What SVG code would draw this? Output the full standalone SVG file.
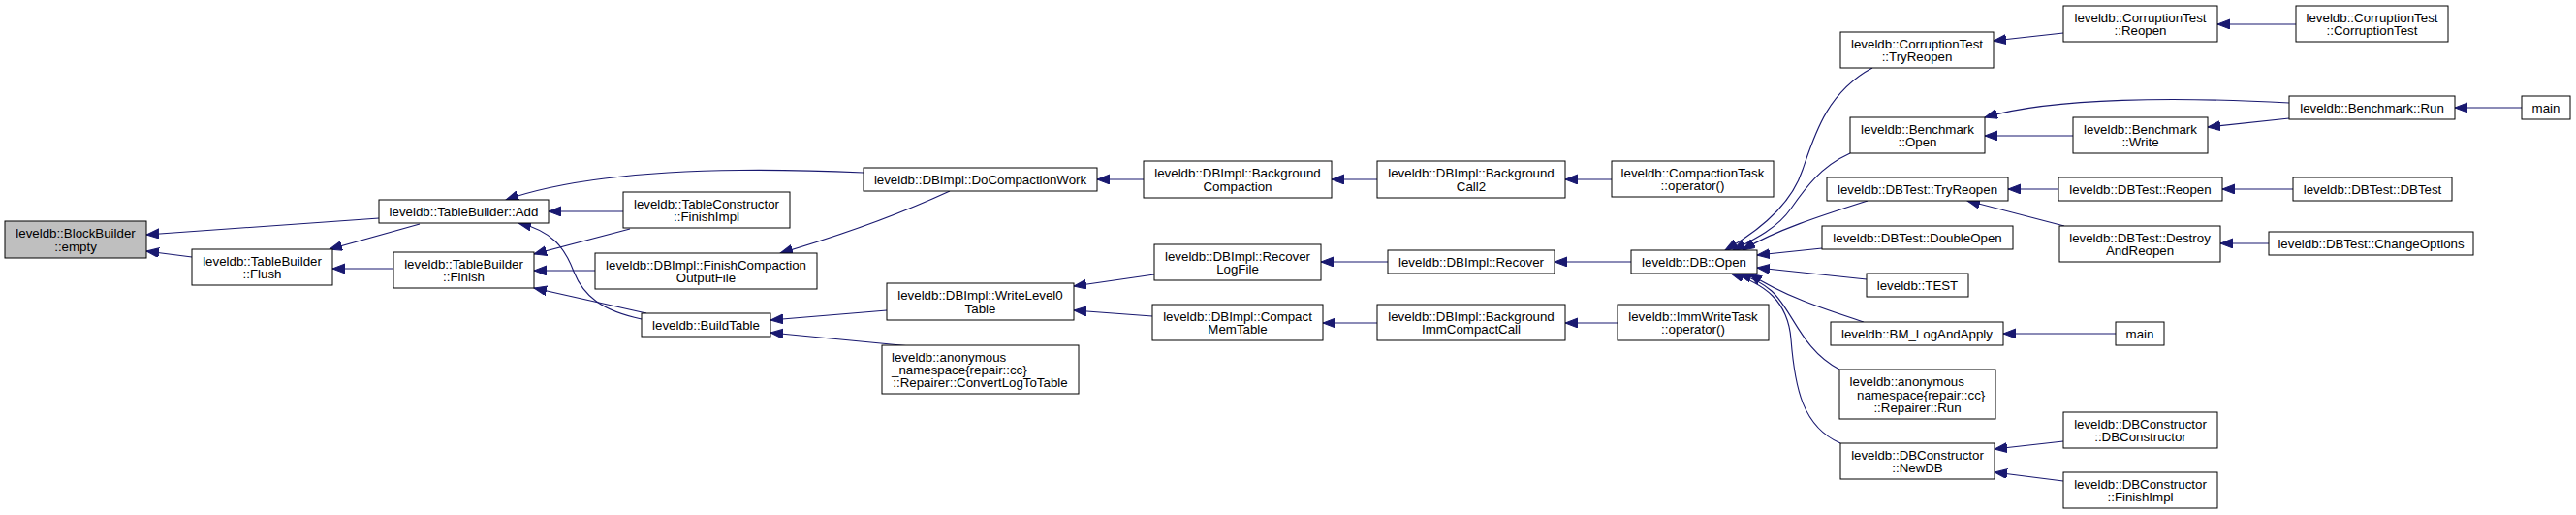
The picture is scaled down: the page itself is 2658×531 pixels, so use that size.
<svg xmlns="http://www.w3.org/2000/svg" width="2658" height="531" viewBox="0 0 2658 531">
<style>
.n rect{fill:#ffffff;stroke:#000000;stroke-width:1}
.n.g rect{fill:#bfbfbf}
.n text{font-family:"Liberation Sans",Arial,Helvetica,sans-serif;font-size:13.3px;text-anchor:middle;fill:#000000}
.n text.l{text-anchor:start}
.e path{fill:none;stroke:#191970;stroke-width:1.1;marker-end:url(#ah)}
</style>
<defs>
<marker id="ah" markerUnits="userSpaceOnUse" markerWidth="14" markerHeight="11" refX="13" refY="5" orient="auto">
<path d="M0,0 L13,5 L0,10 z" fill="#191970" stroke="#191970" stroke-width="1"/>
</marker>
</defs>
<rect x="0" y="0" width="2658" height="531" fill="#ffffff"/>
<g id="edges" class="e">
<path d="M391,225 L151,242"/>
<path d="M198,265 L151,259"/>
<path d="M433,231 L340,257"/>
<path d="M406,277 L343,277"/>
<path d="M891,178 C780,173 620,172 522,206"/>
<path d="M643,218 L566,218"/>
<path d="M650,236 L551,262"/>
<path d="M614,279 L551,279"/>
<path d="M980,197 C930,220 870,242 805,261"/>
<path d="M667,323 L551,297"/>
<path d="M662,329 C620,320 602,305 592,280 C583,256 570,238 535,230"/>
<path d="M915,320 L795,330"/>
<path d="M940,357 L795,343"/>
<path d="M1191,283 L1108,295"/>
<path d="M1189,326 L1108,320"/>
<path d="M1180,185 L1132,185"/>
<path d="M1421,185 L1374,185"/>
<path d="M1663,185 L1615,185"/>
<path d="M1432,270 L1363,270"/>
<path d="M1421,333 L1365,333"/>
<path d="M1669,333 L1615,333"/>
<path d="M1683,270 L1604,270"/>
<path d="M1932,70 C1885,95 1872,140 1860,175 C1848,212 1815,238 1780,258"/>
<path d="M1909,158 C1878,172 1862,195 1848,215 C1834,235 1812,246 1788,258"/>
<path d="M1927,207 C1880,222 1830,238 1798,258"/>
<path d="M1880,256 L1813,263"/>
<path d="M1926,288 L1813,276"/>
<path d="M1923,332 C1880,318 1840,305 1805,282"/>
<path d="M1898,381 C1858,360 1850,320 1828,300 C1818,291 1806,286 1794,282"/>
<path d="M1899,457 C1860,440 1852,400 1848,350 C1845,310 1820,292 1786,282"/>
<path d="M2129,34 L2057,42"/>
<path d="M2369,25 L2288,25"/>
<path d="M2362,106 C2250,100 2120,100 2048,121"/>
<path d="M2139,140 L2048,140"/>
<path d="M2362,122 L2278,131"/>
<path d="M2602,111 L2533,111"/>
<path d="M2124,195 L2072,195"/>
<path d="M2130,233 L2030,207"/>
<path d="M2366,195 L2293,195"/>
<path d="M2341,251 L2291,251"/>
<path d="M2183,344 L2067,344"/>
<path d="M2129,455 L2058,463"/>
<path d="M2129,496 L2058,487"/>
</g>
<g id="n1" class="n g"><rect x="5" y="228" width="146" height="38"/><text x="78" y="245.3">leveldb::BlockBuilder</text><text x="78" y="258.7">::empty</text></g>
<g id="n2" class="n"><rect x="198" y="257" width="145" height="37"/><text x="270.5" y="273.8">leveldb::TableBuilder</text><text x="270.5" y="287.2">::Flush</text></g>
<g id="n3" class="n"><rect x="391" y="206" width="175" height="24"/><text x="478.5" y="222.7">leveldb::TableBuilder::Add</text></g>
<g id="n4" class="n"><rect x="406" y="260" width="145" height="37"/><text x="478.5" y="276.8">leveldb::TableBuilder</text><text x="478.5" y="290.2">::Finish</text></g>
<g id="n5" class="n"><rect x="643" y="198" width="172" height="37"/><text x="729" y="214.8">leveldb::TableConstructor</text><text x="729" y="228.2">::FinishImpl</text></g>
<g id="n6" class="n"><rect x="614" y="261" width="229" height="37"/><text x="728.5" y="277.8">leveldb::DBImpl::FinishCompaction</text><text x="728.5" y="291.2">OutputFile</text></g>
<g id="n7" class="n"><rect x="662" y="323" width="133" height="24"/><text x="728.5" y="339.7">leveldb::BuildTable</text></g>
<g id="n8" class="n"><rect x="891" y="173" width="241" height="24"/><text x="1011.5" y="189.7">leveldb::DBImpl::DoCompactionWork</text></g>
<g id="n9" class="n"><rect x="915" y="292" width="193" height="38"/><text x="1011.5" y="309.3">leveldb::DBImpl::WriteLevel0</text><text x="1011.5" y="322.7">Table</text></g>
<g id="n10" class="n"><rect x="910" y="356" width="203" height="50"/><text class="l" x="920" y="372.6">leveldb::anonymous</text><text class="l" x="920" y="386">_namespace{repair::cc}</text><text x="1011.5" y="399.4">::Repairer::ConvertLogToTable</text></g>
<g id="n11" class="n"><rect x="1180" y="166" width="194" height="38"/><text x="1277" y="183.3">leveldb::DBImpl::Background</text><text x="1277" y="196.7">Compaction</text></g>
<g id="n12" class="n"><rect x="1421" y="166" width="194" height="38"/><text x="1518" y="183.3">leveldb::DBImpl::Background</text><text x="1518" y="196.7">Call2</text></g>
<g id="n13" class="n"><rect x="1663" y="166" width="167" height="37"/><text x="1746.5" y="182.8">leveldb::CompactionTask</text><text x="1746.5" y="196.2">::operator()</text></g>
<g id="n14" class="n"><rect x="1191" y="252" width="172" height="37"/><text x="1277" y="268.8">leveldb::DBImpl::Recover</text><text x="1277" y="282.2">LogFile</text></g>
<g id="n15" class="n"><rect x="1189" y="314" width="176" height="37"/><text x="1277" y="330.8">leveldb::DBImpl::Compact</text><text x="1277" y="344.2">MemTable</text></g>
<g id="n16" class="n"><rect x="1432" y="258" width="172" height="24"/><text x="1518" y="274.7">leveldb::DBImpl::Recover</text></g>
<g id="n17" class="n"><rect x="1421" y="314" width="194" height="37"/><text x="1518" y="330.8">leveldb::DBImpl::Background</text><text x="1518" y="344.2">ImmCompactCall</text></g>
<g id="n18" class="n"><rect x="1669" y="314" width="156" height="37"/><text x="1747" y="330.8">leveldb::ImmWriteTask</text><text x="1747" y="344.2">::operator()</text></g>
<g id="n19" class="n"><rect x="1683" y="258" width="130" height="24"/><text x="1748" y="274.7">leveldb::DB::Open</text></g>
<g id="n20" class="n"><rect x="1899" y="33" width="158" height="37"/><text x="1978" y="49.8">leveldb::CorruptionTest</text><text x="1978" y="63.2">::TryReopen</text></g>
<g id="n21" class="n"><rect x="1909" y="121" width="139" height="37"/><text x="1978.5" y="137.8">leveldb::Benchmark</text><text x="1978.5" y="151.2">::Open</text></g>
<g id="n22" class="n"><rect x="1885" y="183" width="187" height="24"/><text x="1978.5" y="199.7">leveldb::DBTest::TryReopen</text></g>
<g id="n23" class="n"><rect x="1880" y="233" width="197" height="24"/><text x="1978.5" y="249.7">leveldb::DBTest::DoubleOpen</text></g>
<g id="n24" class="n"><rect x="1926" y="282" width="105" height="24"/><text x="1978.5" y="298.7">leveldb::TEST</text></g>
<g id="n25" class="n"><rect x="1889" y="332" width="178" height="24"/><text x="1978" y="348.7">leveldb::BM_LogAndApply</text></g>
<g id="n26" class="n"><rect x="1898" y="381" width="161" height="51"/><text class="l" x="1908.6" y="398.1">leveldb::anonymous</text><text class="l" x="1908.6" y="411.5">_namespace{repair::cc}</text><text x="1978.5" y="424.9">::Repairer::Run</text></g>
<g id="n27" class="n"><rect x="1899" y="457" width="159" height="37"/><text x="1978.5" y="473.8">leveldb::DBConstructor</text><text x="1978.5" y="487.2">::NewDB</text></g>
<g id="n28" class="n"><rect x="2129" y="6" width="159" height="37"/><text x="2208.5" y="22.8">leveldb::CorruptionTest</text><text x="2208.5" y="36.2">::Reopen</text></g>
<g id="n29" class="n"><rect x="2369" y="6" width="157" height="37"/><text x="2447.5" y="22.8">leveldb::CorruptionTest</text><text x="2447.5" y="36.2">::CorruptionTest</text></g>
<g id="n30" class="n"><rect x="2139" y="121" width="139" height="37"/><text x="2208.5" y="137.8">leveldb::Benchmark</text><text x="2208.5" y="151.2">::Write</text></g>
<g id="n31" class="n"><rect x="2362" y="99" width="171" height="24"/><text x="2447.5" y="115.7">leveldb::Benchmark::Run</text></g>
<g id="n32" class="n"><rect x="2602" y="99" width="50" height="24"/><text x="2627" y="115.7">main</text></g>
<g id="n33" class="n"><rect x="2124" y="183" width="169" height="24"/><text x="2208.5" y="199.7">leveldb::DBTest::Reopen</text></g>
<g id="n34" class="n"><rect x="2366" y="183" width="164" height="24"/><text x="2448" y="199.7">leveldb::DBTest::DBTest</text></g>
<g id="n35" class="n"><rect x="2125" y="233" width="166" height="37"/><text x="2208" y="249.8">leveldb::DBTest::Destroy</text><text x="2208" y="263.2">AndReopen</text></g>
<g id="n36" class="n"><rect x="2341" y="239" width="211" height="24"/><text x="2446.5" y="255.7">leveldb::DBTest::ChangeOptions</text></g>
<g id="n37" class="n"><rect x="2183" y="332" width="50" height="24"/><text x="2208" y="348.7">main</text></g>
<g id="n38" class="n"><rect x="2129" y="425" width="159" height="37"/><text x="2208.5" y="441.8">leveldb::DBConstructor</text><text x="2208.5" y="455.2">::DBConstructor</text></g>
<g id="n39" class="n"><rect x="2129" y="487" width="159" height="37"/><text x="2208.5" y="503.8">leveldb::DBConstructor</text><text x="2208.5" y="517.2">::FinishImpl</text></g>
</svg>
